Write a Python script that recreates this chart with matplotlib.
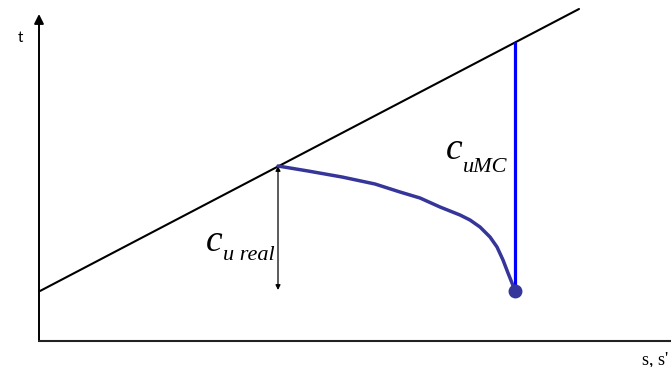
import matplotlib
matplotlib.use("Agg")
import matplotlib.pyplot as plt
from matplotlib.patches import FancyArrowPatch

# Straight limit line t = f(s)
line_s = [0.01, 5.40]
line_t = [0.50, 3.32]

# Real strength path, from the limit line down to the end point
curve_s = [2.39, 2.69, 3.03, 3.36, 3.61, 3.81, 4.01, 4.21, 4.31, 4.41,
           4.51, 4.58, 4.64, 4.69, 4.73, 4.76]
curve_t = [1.75, 1.70, 1.64, 1.57, 1.49, 1.43, 1.34, 1.26, 1.21, 1.14,
           1.04, 0.94, 0.81, 0.68, 0.58, 0.50]

# Vertical c_uMC segment and the c_ureal dimension arrow
mc_s = [4.76, 4.76]
mc_t = [0.50, 2.99]
real_s = 2.39
real_t = [0.51, 1.75]

CURVE_COLOR = "#36369a"

fig = plt.figure(figsize=(6.71, 3.67), dpi=100)
ax = fig.add_axes([0, 0, 1, 1])
ax.set_xlim(-0.39, 6.32)
ax.set_ylim(-0.26, 3.41)
ax.axis("off")

# Coordinate axes
ax.plot([-0.01, 6.40], [0, 0], color="#222222", lw=1.5, solid_capstyle="butt")
ax.add_patch(FancyArrowPatch((0, 0), (0, 3.27), arrowstyle="-|>",
                             mutation_scale=14, lw=1.4, color="black",
                             shrinkA=0, shrinkB=0))

# Limit line
ax.plot(line_s, line_t, color="black", lw=1.5, solid_capstyle="round")

# c_uMC
ax.plot(mc_s, mc_t, color="#0000ff", lw=2.3, solid_capstyle="butt")

# Real path and end point
ax.plot(curve_s, curve_t, color=CURVE_COLOR, lw=2.5,
        solid_joinstyle="round", solid_capstyle="round")
ax.plot([curve_s[-1]], [curve_t[-1]], "o", color=CURVE_COLOR, ms=9)

# c_ureal dimension arrow
ax.add_patch(FancyArrowPatch((real_s, real_t[0]), (real_s, real_t[1]),
                             arrowstyle="<|-|>", mutation_scale=7, lw=0.9,
                             color="black", shrinkA=0, shrinkB=0))

# Labels
ax.text(-0.21, 2.99, "t", fontsize=11, family="Lato", va="baseline")
ax.text(6.03, -0.23, "s, s'", fontsize=13, family="Liberation Serif",
        va="baseline")

serif_it = dict(family="Liberation Serif", style="italic", va="baseline")
ax.text(1.67, 0.90, "c", fontsize=27, **serif_it)
ax.text(1.84, 0.81, "u real", fontsize=16, **serif_it)
ax.text(4.07, 1.82, "c", fontsize=27, **serif_it)
ax.text(4.24, 1.69, "uMC", fontsize=16, **serif_it)

fig.savefig("out.png", dpi=100)
